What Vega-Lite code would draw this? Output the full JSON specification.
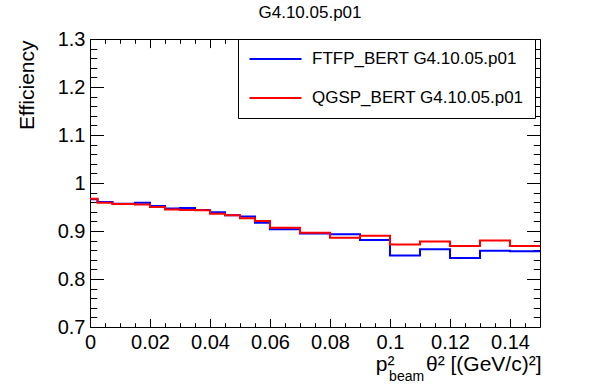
{
  "$schema": "https://vega.github.io/schema/vega-lite/v6.json",
  "width": 450,
  "height": 288,
  "autosize": {"type": "none"},
  "padding": {"left": 90, "top": 39, "right": 58, "bottom": 59},
  "background": "white",
  "title": {"text": "G4.10.05.p01", "fontSize": 17, "font": "Liberation Sans", "fontWeight": "normal", "color": "black", "anchor": "middle", "frame": "group", "offset": 16, "baseline": "alphabetic", "dx": -5, "dy": 21.5},
  "data": {"values": [
    {"model": "FTFP_BERT G4.10.05.p01", "x": 0, "eff": 0.966},
    {"model": "FTFP_BERT G4.10.05.p01", "x": 0.0025, "eff": 0.9605},
    {"model": "FTFP_BERT G4.10.05.p01", "x": 0.0075, "eff": 0.957},
    {"model": "FTFP_BERT G4.10.05.p01", "x": 0.015, "eff": 0.959},
    {"model": "FTFP_BERT G4.10.05.p01", "x": 0.02, "eff": 0.952},
    {"model": "FTFP_BERT G4.10.05.p01", "x": 0.025, "eff": 0.947},
    {"model": "FTFP_BERT G4.10.05.p01", "x": 0.03, "eff": 0.948},
    {"model": "FTFP_BERT G4.10.05.p01", "x": 0.035, "eff": 0.944},
    {"model": "FTFP_BERT G4.10.05.p01", "x": 0.04, "eff": 0.939},
    {"model": "FTFP_BERT G4.10.05.p01", "x": 0.045, "eff": 0.933},
    {"model": "FTFP_BERT G4.10.05.p01", "x": 0.05, "eff": 0.930},
    {"model": "FTFP_BERT G4.10.05.p01", "x": 0.055, "eff": 0.917},
    {"model": "FTFP_BERT G4.10.05.p01", "x": 0.06, "eff": 0.9035},
    {"model": "FTFP_BERT G4.10.05.p01", "x": 0.07, "eff": 0.895},
    {"model": "FTFP_BERT G4.10.05.p01", "x": 0.08, "eff": 0.893},
    {"model": "FTFP_BERT G4.10.05.p01", "x": 0.09, "eff": 0.881},
    {"model": "FTFP_BERT G4.10.05.p01", "x": 0.1, "eff": 0.849},
    {"model": "FTFP_BERT G4.10.05.p01", "x": 0.11, "eff": 0.862},
    {"model": "FTFP_BERT G4.10.05.p01", "x": 0.12, "eff": 0.844},
    {"model": "FTFP_BERT G4.10.05.p01", "x": 0.13, "eff": 0.859},
    {"model": "FTFP_BERT G4.10.05.p01", "x": 0.14, "eff": 0.858},
    {"model": "FTFP_BERT G4.10.05.p01", "x": 0.15, "eff": 0.858},
    {"model": "QGSP_BERT G4.10.05.p01", "x": 0, "eff": 0.967},
    {"model": "QGSP_BERT G4.10.05.p01", "x": 0.0025, "eff": 0.959},
    {"model": "QGSP_BERT G4.10.05.p01", "x": 0.0075, "eff": 0.956},
    {"model": "QGSP_BERT G4.10.05.p01", "x": 0.015, "eff": 0.955},
    {"model": "QGSP_BERT G4.10.05.p01", "x": 0.02, "eff": 0.950},
    {"model": "QGSP_BERT G4.10.05.p01", "x": 0.025, "eff": 0.945},
    {"model": "QGSP_BERT G4.10.05.p01", "x": 0.03, "eff": 0.944},
    {"model": "QGSP_BERT G4.10.05.p01", "x": 0.035, "eff": 0.943},
    {"model": "QGSP_BERT G4.10.05.p01", "x": 0.04, "eff": 0.936},
    {"model": "QGSP_BERT G4.10.05.p01", "x": 0.045, "eff": 0.933},
    {"model": "QGSP_BERT G4.10.05.p01", "x": 0.05, "eff": 0.9265},
    {"model": "QGSP_BERT G4.10.05.p01", "x": 0.055, "eff": 0.921},
    {"model": "QGSP_BERT G4.10.05.p01", "x": 0.06, "eff": 0.907},
    {"model": "QGSP_BERT G4.10.05.p01", "x": 0.07, "eff": 0.8965},
    {"model": "QGSP_BERT G4.10.05.p01", "x": 0.08, "eff": 0.886},
    {"model": "QGSP_BERT G4.10.05.p01", "x": 0.09, "eff": 0.890},
    {"model": "QGSP_BERT G4.10.05.p01", "x": 0.1, "eff": 0.872},
    {"model": "QGSP_BERT G4.10.05.p01", "x": 0.11, "eff": 0.878},
    {"model": "QGSP_BERT G4.10.05.p01", "x": 0.12, "eff": 0.869},
    {"model": "QGSP_BERT G4.10.05.p01", "x": 0.13, "eff": 0.880},
    {"model": "QGSP_BERT G4.10.05.p01", "x": 0.14, "eff": 0.869},
    {"model": "QGSP_BERT G4.10.05.p01", "x": 0.15, "eff": 0.869}
  ]},
  "layer": [
    {
      "mark": {"type": "line", "interpolate": "step-after", "strokeWidth": 2},
      "encoding": {
        "x": {"field": "x", "type": "quantitative",
          "scale": {"domain": [0, 0.15], "nice": false, "zero": false},
          "axis": {"orient": "bottom",
            "values": [0,0.005,0.01,0.015,0.02,0.025,0.03,0.035,0.04,0.045,0.05,0.055,0.06,0.065,0.07,0.075,0.08,0.085,0.09,0.095,0.1,0.105,0.11,0.115,0.12,0.125,0.13,0.135,0.14,0.145],
            "format": "~g",
            "labelExpr": "abs(datum.value*50 - round(datum.value*50)) < 1e-6 ? datum.label : ''",
            "labelFlush": false, "labelOverlap": false, "labelPadding": 13.6,
            "tickSize": {"condition": {"test": "abs(datum.value*50 - round(datum.value*50)) < 1e-6", "value": -8.6}, "value": -4.3},
            "title": "p²\u2003\u2002θ² [(GeV/c)²]",
            "titleFontSize": 21, "titleX": 451, "titleY": 43, "titleAlign": "right", "titleBaseline": "alphabetic"}},
        "y": {"field": "eff", "type": "quantitative",
          "scale": {"domain": [0.7, 1.3], "nice": false, "zero": false},
          "axis": {"orient": "left",
            "values": [0.7,0.72,0.74,0.76,0.78,0.8,0.82,0.84,0.86,0.88,0.9,0.92,0.94,0.96,0.98,1,1.02,1.04,1.06,1.08,1.1,1.12,1.14,1.16,1.18,1.2,1.22,1.24,1.26,1.28,1.3],
            "format": "~g",
            "labelExpr": "abs(datum.value*10 - round(datum.value*10)) < 1e-6 ? datum.label : ''",
            "labelOverlap": false, "labelFlush": false, "labelPadding": 18.5,
            "tickSize": {"condition": {"test": "abs(datum.value*10 - round(datum.value*10)) < 1e-6", "value": -13.5}, "value": -6.75},
            "title": "Efficiency",
            "titleFontSize": 21, "titleAngle": -90, "titleX": -53, "titleY": 1, "titleAlign": "right", "titleBaseline": "bottom"}},
        "color": {"field": "model", "type": "nominal",
          "scale": {"domain": ["FTFP_BERT G4.10.05.p01", "QGSP_BERT G4.10.05.p01"], "range": ["#0000ff", "#ff0000"]},
          "legend": {"orient": "none", "legendX": 148, "legendY": 0, "title": null,
            "symbolType": "M-5.2,0H5.2", "symbolSize": 100, "symbolStrokeWidth": 2, "symbolOffset": 17.5,
            "labelFontSize": 17, "labelFont": "Liberation Sans", "labelColor": "black", "labelOffset": 28, "labelLimit": 400,
            "padding": 11.5, "rowPadding": 21, "fillColor": "white", "strokeColor": "black"}}
      }
    },
    {
      "mark": {"type": "line", "interpolate": "step-after", "opacity": 0},
      "encoding": {
        "x": {"field": "x", "type": "quantitative",
          "axis": {"orient": "top", "labels": false, "title": null,
            "values": [0,0.005,0.01,0.015,0.02,0.025,0.03,0.035,0.04,0.045,0.05,0.055,0.06,0.065,0.07,0.075,0.08,0.085,0.09,0.095,0.1,0.105,0.11,0.115,0.12,0.125,0.13,0.135,0.14,0.145],
            "tickSize": {"condition": {"test": "abs(datum.value*50 - round(datum.value*50)) < 1e-6", "value": -8.6}, "value": -4.3}}},
        "y": {"field": "eff", "type": "quantitative",
          "axis": {"orient": "right", "labels": false, "title": null,
            "values": [0.7,0.72,0.74,0.76,0.78,0.8,0.82,0.84,0.86,0.88,0.9,0.92,0.94,0.96,0.98,1,1.02,1.04,1.06,1.08,1.1,1.12,1.14,1.16,1.18,1.2,1.22,1.24,1.26,1.28,1.3],
            "tickSize": {"condition": {"test": "abs(datum.value*10 - round(datum.value*10)) < 1e-6", "value": -13.5}, "value": -6.75}}},
        "detail": {"field": "model", "type": "nominal"}
      }
    },
    {
      "data": {"values": [{"sub": "beam"}]},
      "mark": {"type": "text", "align": "left", "baseline": "alphabetic", "fontSize": 14, "font": "Liberation Sans", "color": "black", "dy": 54},
      "encoding": {
        "x": {"datum": 0.0997, "type": "quantitative", "axis": null},
        "y": {"datum": 0.7, "type": "quantitative", "axis": null},
        "text": {"field": "sub"}
      }
    }
  ],
  "config": {
    "font": "Liberation Sans",
    "view": {"stroke": "black", "strokeWidth": 1},
    "axis": {"domain": false, "grid": false, "labelFont": "Liberation Sans", "labelFontSize": 20, "labelColor": "black", "tickColor": "black", "tickWidth": 1, "titleFont": "Liberation Sans", "titleFontWeight": "normal", "titleColor": "black"}
  }
}
